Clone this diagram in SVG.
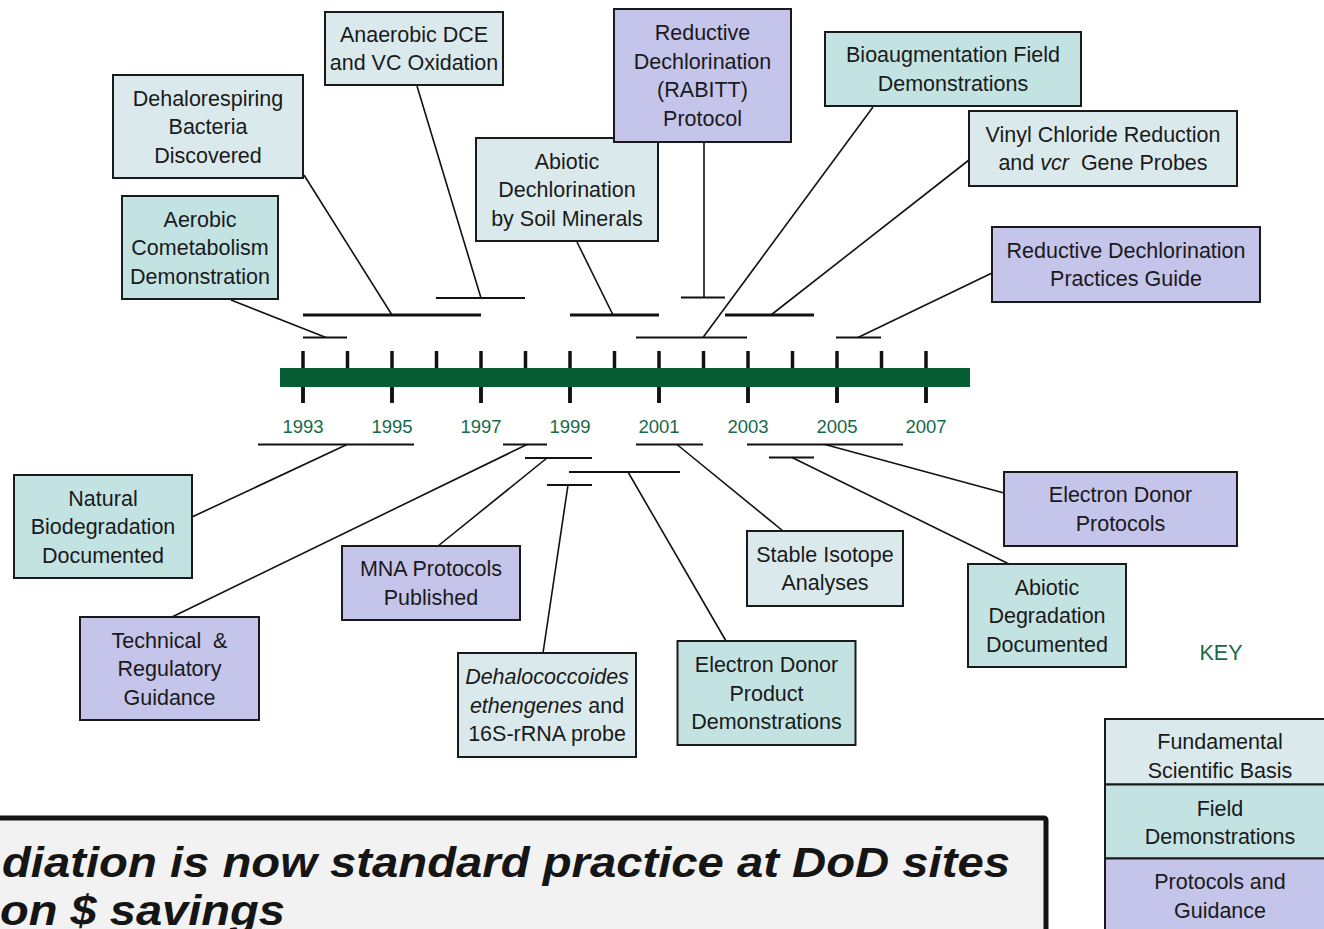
<svg xmlns="http://www.w3.org/2000/svg" width="1324" height="929" viewBox="0 0 1324 929">
<style>
  .box{stroke:#1a1a1a;stroke-width:2}
  .fund{fill:#DAEAEC}
  .field{fill:#C3E3E3}
  .prot{fill:#C5C4EA}
  .t{font-family:"Liberation Sans",Arial,sans-serif;font-size:21.5px;fill:#1a1a1a;text-anchor:middle}
  .yr{font-family:"Liberation Sans",Arial,sans-serif;font-size:18.5px;fill:#17694A;text-anchor:middle}
  .lead{stroke:#111;stroke-width:1.6;fill:none}
  .br{stroke:#111;stroke-width:2;fill:none}
  .brk{stroke:#111;stroke-width:3;fill:none}
  .tick{stroke:#111;stroke-width:3.5}
  .banner{font-family:"Liberation Sans",Arial,sans-serif;font-size:43px;font-weight:bold;font-style:italic;fill:#151515}
</style>
<rect width="1324" height="929" fill="#ffffff"/>

<g id="timeline">
  <g class="tick">
    <line x1="303" y1="351" x2="303" y2="403"/>
    <line x1="347.5" y1="351" x2="347.5" y2="370"/>
    <line x1="392" y1="351" x2="392" y2="403"/>
    <line x1="436.5" y1="351" x2="436.5" y2="370"/>
    <line x1="481" y1="351" x2="481" y2="403"/>
    <line x1="525.5" y1="351" x2="525.5" y2="370"/>
    <line x1="570" y1="351" x2="570" y2="403"/>
    <line x1="614.5" y1="351" x2="614.5" y2="370"/>
    <line x1="659" y1="351" x2="659" y2="403"/>
    <line x1="703.5" y1="351" x2="703.5" y2="370"/>
    <line x1="748" y1="351" x2="748" y2="403"/>
    <line x1="792.5" y1="351" x2="792.5" y2="370"/>
    <line x1="837" y1="351" x2="837" y2="403"/>
    <line x1="881.5" y1="351" x2="881.5" y2="370"/>
    <line x1="926" y1="351" x2="926" y2="403"/>
  </g>
  <rect x="280" y="368" width="690" height="19" fill="#065C33"/>
  <g class="tick">
    <line x1="303" y1="387" x2="303" y2="403"/>
    <line x1="392" y1="387" x2="392" y2="403"/>
    <line x1="481" y1="387" x2="481" y2="403"/>
    <line x1="570" y1="387" x2="570" y2="403"/>
    <line x1="659" y1="387" x2="659" y2="403"/>
    <line x1="748" y1="387" x2="748" y2="403"/>
    <line x1="837" y1="387" x2="837" y2="403"/>
    <line x1="926" y1="387" x2="926" y2="403"/>
  </g>
  <text class="yr" x="303" y="433">1993</text>
  <text class="yr" x="392" y="433">1995</text>
  <text class="yr" x="481" y="433">1997</text>
  <text class="yr" x="570" y="433">1999</text>
  <text class="yr" x="659" y="433">2001</text>
  <text class="yr" x="748" y="433">2003</text>
  <text class="yr" x="837" y="433">2005</text>
  <text class="yr" x="926" y="433">2007</text>
</g>

<g id="connectors">
  <line class="br" x1="436" y1="298" x2="525" y2="298"/>
  <line class="lead" x1="417" y1="86" x2="481" y2="298"/>
  <line class="brk" x1="303" y1="315" x2="481" y2="315"/>
  <line class="lead" x1="304" y1="175" x2="392" y2="315"/>
  <line class="br" x1="303" y1="337.5" x2="347" y2="337.5"/>
  <line class="lead" x1="231" y1="300" x2="326" y2="337.5"/>
  <line class="brk" x1="570" y1="315" x2="659" y2="315"/>
  <line class="lead" x1="577" y1="242" x2="613" y2="315"/>
  <line class="br" x1="636" y1="337.5" x2="747" y2="337.5"/>
  <line class="lead" x1="873" y1="107" x2="703" y2="337.5"/>
  <line class="br" x1="681" y1="297.5" x2="725" y2="297.5"/>
  <line class="lead" x1="704" y1="142" x2="704" y2="297.5"/>
  <line class="brk" x1="725" y1="315" x2="814" y2="315"/>
  <line class="lead" x1="969" y1="160" x2="771" y2="315"/>
  <line class="br" x1="836" y1="337.5" x2="881" y2="337.5"/>
  <line class="lead" x1="992" y1="273" x2="858" y2="337.5"/>
  <line class="br" x1="258" y1="444.5" x2="414" y2="444.5"/>
  <line class="lead" x1="347" y1="444.5" x2="192" y2="517"/>
  <line class="br" x1="503" y1="444.5" x2="547" y2="444.5"/>
  <line class="lead" x1="527" y1="444.5" x2="172" y2="617"/>
  <line class="br" x1="525" y1="458" x2="592" y2="458"/>
  <line class="lead" x1="547" y1="458" x2="438" y2="546"/>
  <line class="br" x1="569" y1="472" x2="680" y2="472"/>
  <line class="lead" x1="628" y1="472" x2="726" y2="641"/>
  <line class="br" x1="547" y1="485" x2="592" y2="485"/>
  <line class="lead" x1="568" y1="485" x2="543" y2="653"/>
  <line class="br" x1="636" y1="444.5" x2="703" y2="444.5"/>
  <line class="lead" x1="677" y1="444.5" x2="783" y2="531"/>
  <line class="br" x1="747" y1="444.5" x2="903" y2="444.5"/>
  <line class="lead" x1="825" y1="444.5" x2="1004" y2="493"/>
  <line class="br" x1="769" y1="457.5" x2="814" y2="457.5"/>
  <line class="lead" x1="792" y1="457.5" x2="1009" y2="564"/>
</g>

<g id="anaerobic">
  <rect class="box fund" x="325" y="12" width="178" height="73"/>
  <text class="t" x="414" y="41.8">Anaerobic DCE</text>
  <text class="t" x="414" y="70.3">and VC Oxidation</text>
</g>
<g id="dehalorespiring">
  <rect class="box fund" x="113" y="75" width="190" height="103"/>
  <text class="t" x="208" y="105.5">Dehalorespiring</text>
  <text class="t" x="208" y="134">Bacteria</text>
  <text class="t" x="208" y="162.5">Discovered</text>
</g>
<g id="aerobic">
  <rect class="box field" x="122" y="196" width="156" height="103"/>
  <text class="t" x="200" y="226.5">Aerobic</text>
  <text class="t" x="200" y="255">Cometabolism</text>
  <text class="t" x="200" y="283.5">Demonstration</text>
</g>
<g id="abiotic-dechlorination">
  <rect class="box fund" x="476" y="138" width="182" height="103"/>
  <text class="t" x="567" y="168.5">Abiotic</text>
  <text class="t" x="567" y="197">Dechlorination</text>
  <text class="t" x="567" y="225.5">by Soil Minerals</text>
</g>
<g id="rabitt">
  <rect class="box prot" x="614" y="9" width="177" height="133"/>
  <text class="t" x="702.5" y="40.3">Reductive</text>
  <text class="t" x="702.5" y="68.8">Dechlorination</text>
  <text class="t" x="702.5" y="97.3">(RABITT)</text>
  <text class="t" x="702.5" y="125.8">Protocol</text>
</g>
<g id="bioaugmentation">
  <rect class="box field" x="825" y="32" width="256" height="74"/>
  <text class="t" x="953" y="62.3">Bioaugmentation Field</text>
  <text class="t" x="953" y="90.8">Demonstrations</text>
</g>
<g id="vinyl-chloride">
  <rect class="box fund" x="969" y="111" width="268" height="75"/>
  <text class="t" x="1103" y="141.8">Vinyl Chloride Reduction</text>
  <text class="t" x="1103" y="170.3" xml:space="preserve">and <tspan font-style="italic">vcr</tspan>  Gene Probes</text>
</g>
<g id="practices-guide">
  <rect class="box prot" x="992" y="227" width="268" height="75"/>
  <text class="t" x="1126" y="257.8">Reductive Dechlorination</text>
  <text class="t" x="1126" y="286.3">Practices Guide</text>
</g>
<g id="natural-biodegradation">
  <rect class="box field" x="14" y="475" width="178" height="103"/>
  <text class="t" x="103" y="505.5">Natural</text>
  <text class="t" x="103" y="534">Biodegradation</text>
  <text class="t" x="103" y="562.5">Documented</text>
</g>
<g id="technical-regulatory">
  <rect class="box prot" x="80" y="617" width="179" height="103"/>
  <text class="t" x="169.5" y="647.5" xml:space="preserve">Technical  &amp;</text>
  <text class="t" x="169.5" y="676">Regulatory</text>
  <text class="t" x="169.5" y="704.5">Guidance</text>
</g>
<g id="mna-protocols">
  <rect class="box prot" x="342" y="546" width="178" height="74"/>
  <text class="t" x="431" y="576.3">MNA Protocols</text>
  <text class="t" x="431" y="604.8">Published</text>
</g>
<g id="dehalococcoides">
  <rect class="box fund" x="458" y="653" width="178" height="104"/>
  <text class="t" x="547" y="684" font-style="italic">Dehalococcoides</text>
  <text class="t" x="547" y="712.5"><tspan font-style="italic">ethengenes</tspan> and</text>
  <text class="t" x="547" y="741">16S-rRNA probe</text>
</g>
<g id="electron-donor-demos">
  <rect class="box field" x="677.5" y="641" width="178" height="104"/>
  <text class="t" x="766.5" y="672">Electron Donor</text>
  <text class="t" x="766.5" y="700.5">Product</text>
  <text class="t" x="766.5" y="729">Demonstrations</text>
</g>
<g id="stable-isotope">
  <rect class="box fund" x="747" y="531" width="156" height="75"/>
  <text class="t" x="825" y="561.8">Stable Isotope</text>
  <text class="t" x="825" y="590.3">Analyses</text>
</g>
<g id="abiotic-degradation">
  <rect class="box field" x="968" y="564" width="158" height="103"/>
  <text class="t" x="1047" y="594.5">Abiotic</text>
  <text class="t" x="1047" y="623">Degradation</text>
  <text class="t" x="1047" y="651.5">Documented</text>
</g>
<g id="electron-donor-protocols">
  <rect class="box prot" x="1004" y="472" width="233" height="74"/>
  <text class="t" x="1120.5" y="502.3">Electron Donor</text>
  <text class="t" x="1120.5" y="530.8">Protocols</text>
</g>

<g id="key">
  <text class="t" x="1221" y="659.5" style="fill:#17694A">KEY</text>
  <rect class="box fund" x="1105" y="719" width="230" height="65.5"/>
  <rect class="box field" x="1105" y="784.5" width="230" height="74"/>
  <rect class="box prot" x="1105" y="858.5" width="230" height="90"/>
  <text class="t" x="1220" y="749.2">Fundamental</text>
  <text class="t" x="1220" y="778.2">Scientific Basis</text>
  <text class="t" x="1220" y="815.5">Field</text>
  <text class="t" x="1220" y="843.5">Demonstrations</text>
  <text class="t" x="1220" y="889.2">Protocols and</text>
  <text class="t" x="1220" y="917.5">Guidance</text>
</g>

<g id="banner">
  <rect x="-20" y="818" width="1066" height="160" fill="#F2F2F2" stroke="#151515" stroke-width="5" rx="2"/>
  <text class="banner" x="2" y="877" textLength="1008" lengthAdjust="spacingAndGlyphs">diation is now standard practice at DoD sites</text>
  <text class="banner" x="0" y="925" textLength="285" lengthAdjust="spacingAndGlyphs">on $ savings</text>
</g>
</svg>
